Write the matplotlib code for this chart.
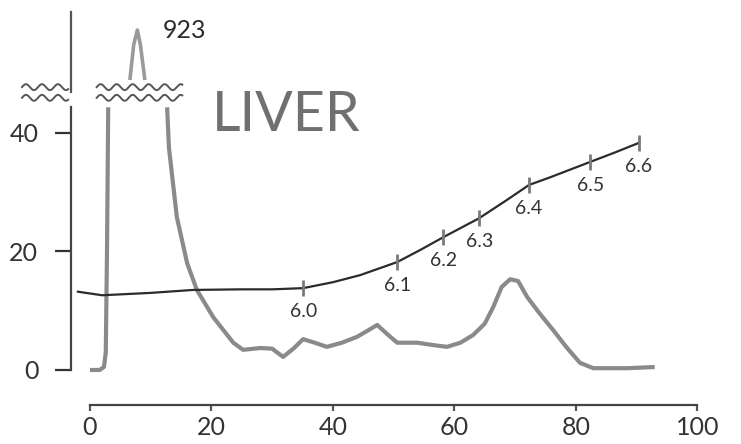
# Liver absorbance profile with pH gradient, redrawn from a hand-drawn figure.
import numpy as np
import matplotlib.pyplot as plt

plt.rcParams['font.family'] = ['Lato', 'DejaVu Sans']

# optical density trace below the axis break: rising edge, then the rest
rise_x = [0, 1.6, 2.3, 2.6, 2.8, 3.0]
rise_y = [0, 0, 0.5, 3, 20, 44.3]
fall_x = [12.7, 13.0, 14.3, 16.0, 17.6, 20.3, 23.6, 25.2,
          28.0, 30.0, 31.8, 33.5, 35.1, 37.0, 39.0, 41.5, 44.0, 46.0, 47.3, 49.0,
          50.6, 53.9, 56.5, 58.8, 61.0, 63.1, 65.0, 66.4, 67.8, 69.2, 70.5, 72.0,
          74.0, 76.3, 78.5, 80.7, 82.9, 85.5, 88.5, 93.0]
fall_y = [44.3, 37.5, 25.8, 18.0, 13.5, 8.9, 4.6, 3.4,
          3.7, 3.6, 2.2, 3.6, 5.2, 4.6, 3.9, 4.6, 5.6, 6.8, 7.6, 6.0,
          4.6, 4.6, 4.2, 3.9, 4.6, 5.9, 7.8, 10.6, 14.0, 15.3, 15.0, 12.3,
          9.6, 6.7, 3.8, 1.2, 0.3, 0.3, 0.3, 0.5]

# the off-scale peak above the break
peak_x = [6.6, 7.2, 7.8, 8.3, 9.0]
peak_y = [874, 908, 923, 908, 874]
peak_label = "923"

# pH gradient line
ph_x = [-2.0, 0.0, 2.0, 10.0, 17.0, 25.0, 30.0, 35.1, 40.0, 44.5, 50.6, 54.5, 58.2,
        64.1, 68.7, 72.3, 75.8, 82.4, 86.5, 90.4]
ph_y = [13.2, 12.9, 12.6, 13.0, 13.5, 13.6, 13.6, 13.8, 14.8, 16.0, 18.2, 20.3, 22.4,
        25.6, 28.7, 31.2, 32.5, 35.1, 36.7, 38.3]

# pH marks along the gradient line
mark_x = [35.1, 50.6, 58.2, 64.1, 72.3, 82.4, 90.4]
mark_y = [13.8, 18.2, 22.4, 25.6, 31.2, 35.1, 38.3]
mark_labels = ["6.0", "6.1", "6.2", "6.3", "6.4", "6.5", "6.6"]

x_ticks = [0, 20, 40, 60, 80, 100]
y_ticks = [0, 20, 40]

INK = "#2b2b2b"
GREY = "#8a8a8a"

fig = plt.figure(figsize=(7.41, 4.44), dpi=100)
W, H = 741, 444


def box(x0, y0, x1, y1):
    # pixel box (top-left origin) -> figure fraction rect
    return [x0 / W, (H - y1) / H, (x1 - x0) / W, (y1 - y0) / H]


ax = fig.add_axes(box(60, 107, 730, 410))
ax.set_xlim(-4.94, 105.4)
ax.set_ylim(-6.75, 44.35)
ax.patch.set_alpha(0)

for xs, ys in [(rise_x, rise_y), (fall_x, fall_y)]:
    ax.plot(xs, ys, color=GREY, lw=3.0, solid_capstyle="butt", solid_joinstyle="round")
ax.plot(ph_x, ph_y, color=INK, lw=1.6)
ax.plot(mark_x, mark_y, ls="none", marker="|", markersize=11, mew=2.0, color="#7a7a7a")
for x, y, s in zip(mark_x, mark_y, mark_labels):
    ax.annotate(s, (x, y), xytext=(0, -17), textcoords="offset points",
                ha="center", va="center", fontsize=14, color="#333333")

for side in ["top", "right"]:
    ax.spines[side].set_visible(False)
ax.spines["left"].set_position(("data", -3.13))
ax.spines["left"].set_bounds(0, 44.3)
ax.spines["bottom"].set_position(("data", -5.9))
ax.spines["bottom"].set_bounds(0, 100)
for side in ["left", "bottom"]:
    ax.spines[side].set_color("#444444")
    ax.spines[side].set_linewidth(1.6)

ax.set_xticks(x_ticks)
ax.set_yticks(y_ticks)
ax.tick_params(axis="x", direction="out", length=4, width=1.6, color="#555555",
               labelsize=18, labelcolor="#333333", pad=4)
ax.tick_params(axis="y", direction="out", length=11.5, width=1.6, color="#333333",
               labelsize=18, labelcolor="#333333", pad=12)

ax.text(20.0, 43.0, "LIVER", fontsize=40, color="#707070", va="center", ha="left")

# upper panel for the off-scale peak
top = fig.add_axes(box(60, 12, 730, 92), sharex=ax)
top.set_ylim(860, 941.3)
top.patch.set_alpha(0)
top.plot(peak_x, peak_y, color="#9a9a9a", lw=2.6, solid_joinstyle="round")
top.text(12.0, 923, peak_label, fontsize=18, color=INK, va="center", ha="left")
for side in ["top", "right", "bottom"]:
    top.spines[side].set_visible(False)
top.spines["left"].set_position(("data", -3.13))
top.spines["left"].set_color("#555555")
top.spines["left"].set_linewidth(1.6)
top.tick_params(left=False, labelleft=False, bottom=False, labelbottom=False)


# wavy axis-break marks
def wave(x0, x1, y):
    t = np.linspace(x0, x1, 200)
    px = 90 + t * 6.07
    return t, y + 0.5 * np.sin((px - px[0]) / 16.0 * 2 * np.pi)


for (x0, x1) in [(-11.2, -3.6), (1.1, 15.2)]:
    for y in [47.7, 45.9]:
        wx, wy = wave(x0, x1, y)
        ax.plot(wx, wy, color="#555555", lw=1.4, clip_on=False)

fig.savefig("out.png", dpi=100)
